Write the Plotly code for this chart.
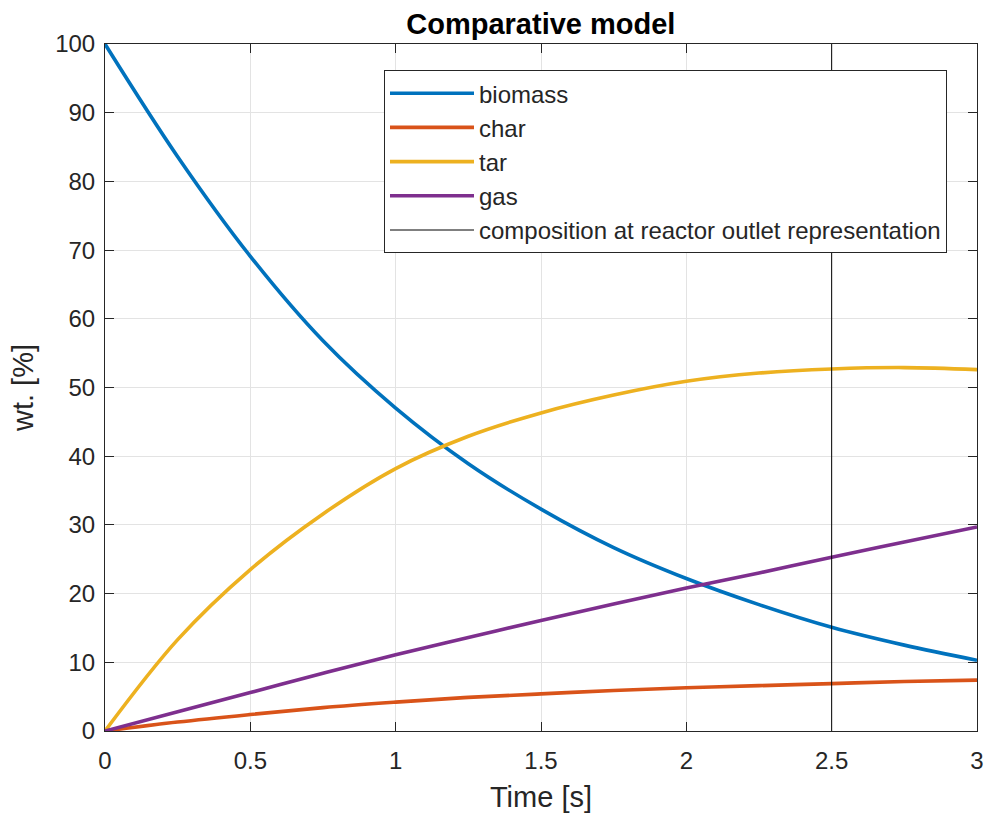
import plotly.graph_objects as go

time = [0, 0.25, 0.5, 0.75, 1.0, 1.25, 1.5, 1.75, 2.0, 2.25, 2.5, 2.75, 3.0]
biomass = [100, 83.6, 69.1, 56.8, 47.0, 38.9, 32.3, 26.7, 22.2, 18.4, 15.1, 12.5, 10.3]
char = [0, 1.3, 2.4, 3.4, 4.2, 4.9, 5.4, 5.9, 6.3, 6.6, 6.9, 7.2, 7.4]
tar = [0, 13.3, 23.5, 31.6, 38.2, 42.9, 46.3, 48.9, 50.9, 52.1, 52.7, 52.9, 52.6]
gas = [0, 2.8, 5.6, 8.4, 11.1, 13.6, 16.1, 18.5, 20.8, 23.0, 25.3, 27.5, 29.7]
outlet_time = [2.5, 2.5]
outlet_y = [0, 100]
x_ticks = [0, 0.5, 1, 1.5, 2, 2.5, 3]
x_ticklabels = ["0", "0.5", "1", "1.5", "2", "2.5", "3"]
y_ticks = [0, 10, 20, 30, 40, 50, 60, 70, 80, 90, 100]

series = [("biomass", biomass, "#0072BD"), ("char", char, "#D95319"),
          ("tar", tar, "#EDB120"), ("gas", gas, "#7E2F8E")]

fig = go.Figure()
for name, vals, col in series:
    fig.add_trace(go.Scatter(x=time, y=vals, name=name, mode="lines",
                             line=dict(color=col, width=3.6, shape="spline", smoothing=1.0)))
fig.add_trace(go.Scatter(x=outlet_time, y=outlet_y, mode="lines",
                         name="composition at reactor outlet representation",
                         line=dict(color="black", width=1)))

font = "Liberation Sans, Arial, sans-serif"
axis_common = dict(showline=True, linecolor="#262626", linewidth=1, mirror="ticks",
                   ticks="inside", ticklen=9, tickcolor="#262626", automargin=False,
                   showgrid=True, gridcolor="#e3e3e3", gridwidth=1, zeroline=False,
                   tickfont=dict(family=font, size=24, color="#262626"))
fig.update_layout(
    width=987, height=818,
    margin=dict(l=105, r=10, t=44, b=87, autoexpand=False),
    paper_bgcolor="white", plot_bgcolor="white",
    title=dict(text="<b>Comparative model</b>", x=0.548, xanchor="center", xref="container",
               y=0.971, yanchor="middle", yref="container", automargin=False,
               font=dict(family=font, size=29, color="black")),
    xaxis=dict(range=[0, 3], tickvals=x_ticks, ticktext=x_ticklabels,
               ticklabelstandoff=8,
               title=dict(text="Time [s]", font=dict(family=font, size=29, color="#262626"), standoff=13),
               **axis_common),
    yaxis=dict(range=[0, 100], tickvals=y_ticks, ticklabelstandoff=4,
               title=dict(text="wt. [%]", font=dict(family=font, size=29, color="#262626"), standoff=13),
               **axis_common),
    legend=dict(x=0.9656, xanchor="right", y=0.962, yanchor="top",
                bgcolor="white", bordercolor="#262626", borderwidth=1,
                font=dict(family=font, size=24, color="#262626"),
                tracegroupgap=0, itemwidth=84),
    showlegend=True,
)
fig.write_html("out.html", config={"displayModeBar": False},
               post_script="document.body.style.margin='0';")
